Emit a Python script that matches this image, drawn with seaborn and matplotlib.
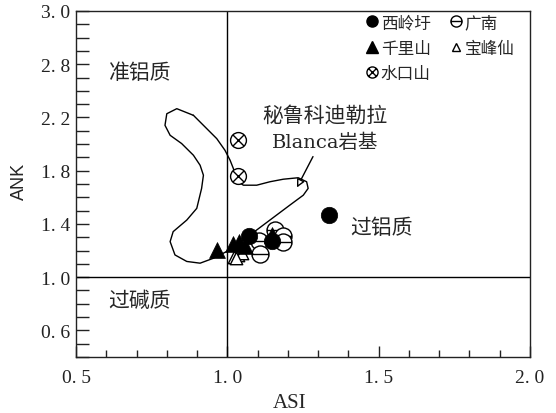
import matplotlib
matplotlib.use("Agg")
import matplotlib.pyplot as plt
from matplotlib.path import Path
from matplotlib.lines import Line2D
from matplotlib.ticker import MultipleLocator, FixedLocator, FixedFormatter
import numpy as np
import pandas as pd
import seaborn as sns

# ---- sample data: ASI vs ANK ----
xiling_asi = [1.073, 1.147, 1.337]
xiling_ank = [1.310, 1.275, 1.470]

qianli_asi = [0.965, 1.020, 1.040, 1.058, 1.146]
qianli_ank = [1.205, 1.250, 1.265, 1.235, 1.320]

shuikou_asi = [1.036, 1.036]
shuikou_ank = [2.030, 1.760]

guangnan_asi = [1.157, 1.183, 1.183, 1.105, 1.108]
guangnan_ank = [1.354, 1.312, 1.267, 1.270, 1.176]

baofeng_asi = [1.023, 1.036, 1.047, 1.030]
baofeng_ank = [1.155, 1.167, 1.180, 1.145]

# Cordillera Blanca batholith field outline (closed)
field_asi = [0.888, 0.833, 0.800, 0.794, 0.811, 0.849, 0.888, 0.910, 0.921,
             0.915, 0.899, 0.866, 0.821, 0.811, 0.827, 0.866, 0.910, 0.954,
             0.998, 1.031, 1.075, 1.119, 1.163, 1.207, 1.251, 1.267, 1.262,
             1.234, 1.185, 1.141, 1.097, 1.053, 1.036, 1.025, 1.020, 1.009,
             0.992, 0.965, 0.921]
field_ank = [2.216, 2.266, 2.228, 2.141, 2.066, 2.004, 1.916, 1.841, 1.766,
             1.667, 1.517, 1.429, 1.342, 1.267, 1.167, 1.118, 1.105, 1.142,
             1.193, 1.242, 1.317, 1.392, 1.467, 1.542, 1.616, 1.667, 1.717,
             1.747, 1.736, 1.717, 1.691, 1.691, 1.717, 1.766, 1.816, 1.879,
             1.954, 2.041, 2.141]

# ---- axis ticks ----
x_major = [0.5, 1.0, 1.5, 2.0]
x_labels = ["0. 5", "1. 0", "1. 5", "2. 0"]
y_major = [0.6, 1.0, 1.4, 1.8, 2.2, 2.6, 3.0]
y_labels = ["0. 6", "1. 0", "1. 4", "1. 8", "2. 2", "2. 8", "3. 0"]

group_names = ["西岭圩", "千里山", "水口山", "广南", "宝峰仙"]

sns.set_style("ticks")
plt.rcParams["font.family"] = ["Liberation Serif", "Noto Sans CJK SC", "DejaVu Sans"]
plt.rcParams["axes.linewidth"] = 1.0
plt.rcParams["axes.edgecolor"] = "#222222"

CJK = ["Noto Sans CJK SC", "DejaVu Sans"]

# custom markers: circle with a bar, circle with a cross
circ = Path.unit_circle()
theta_path = Path(
    np.concatenate([circ.vertices, [[-1, 0], [1, 0]]]),
    np.concatenate([circ.codes, [Path.MOVETO, Path.LINETO]]),
)
d = np.sqrt(0.5)
otimes_path = Path(
    np.concatenate([circ.vertices, [[-d, -d], [d, d], [-d, d], [d, -d]]]),
    np.concatenate([circ.codes, [Path.MOVETO, Path.LINETO, Path.MOVETO, Path.LINETO]]),
)

fig = plt.figure(figsize=(5.56, 4.14), dpi=100)
ax = fig.add_axes([76 / 556, 1 - 358 / 414, 454 / 556, 346 / 414])

# field outline
field = pd.DataFrame({"ASI": field_asi + field_asi[:1], "ANK": field_ank + field_ank[:1]})
sns.lineplot(data=field, x="ASI", y="ANK", sort=False, estimator=None,
             color="black", linewidth=1.0, ax=ax)

# A/CNK = 1 and A/NK = 1 dividers
ax.axvline(1.0, color="black", linewidth=1.0, zorder=1)
ax.axhline(1.0, color="black", linewidth=1.0, zorder=1)

# samples
sns.scatterplot(x=guangnan_asi, y=guangnan_ank, marker=theta_path, s=150,
                color="white", edgecolor="black", linewidth=1.0, ax=ax, zorder=3)
sns.scatterplot(x=baofeng_asi, y=baofeng_ank, marker="^", s=80,
                color="white", edgecolor="black", linewidth=1.0, ax=ax, zorder=3)
sns.scatterplot(x=qianli_asi, y=qianli_ank, marker="^", s=130,
                color="black", edgecolor="black", linewidth=0.5, ax=ax, zorder=4)
sns.scatterplot(x=xiling_asi, y=xiling_ank, marker="o", s=140,
                color="black", edgecolor="black", linewidth=0.5, ax=ax, zorder=4)
sns.scatterplot(x=shuikou_asi, y=shuikou_ank, marker=otimes_path, s=130,
                color="white", edgecolor="black", linewidth=1.0, ax=ax, zorder=3)

# field labels
ax.text(0.711, 2.543, "准铝质", fontsize=15, family=CJK, ha="center", va="center")
ax.text(0.711, 0.828, "过碱质", fontsize=15, family=CJK, ha="center", va="center")
ax.text(1.508, 1.375, "过铝质", fontsize=15, family=CJK, ha="center", va="center")
ax.text(1.323, 2.221, "秘鲁科迪勒拉", fontsize=15, family=CJK, ha="center", va="center")
ax.text(1.323, 2.019, "Blanca岩基", fontsize=14,
        family=["DejaVu Serif", "Noto Sans CJK SC"], ha="center", va="center")
ax.annotate("", xy=(1.230, 1.674), xytext=(1.283, 1.906),
            arrowprops=dict(arrowstyle="-|>", color="black", fc="white",
                            lw=1.0, mutation_scale=12, shrinkA=0, shrinkB=0))

# axes
ax.set_xlim(0.5, 2.0)
ax.set_ylim(0.4, 3.0)
ax.xaxis.set_major_locator(FixedLocator(x_major))
ax.xaxis.set_major_formatter(FixedFormatter(x_labels))
ax.xaxis.set_minor_locator(MultipleLocator(0.1))
ax.yaxis.set_major_locator(FixedLocator(y_major))
ax.yaxis.set_major_formatter(FixedFormatter(y_labels))
ax.yaxis.set_minor_locator(MultipleLocator(0.1))

ax.tick_params(axis="x", which="major", direction="in", length=8, width=1,
               labelsize=14, pad=9, colors="#222222")
ax.tick_params(axis="x", which="minor", direction="in", length=5, width=1, colors="#222222")
ax.tick_params(axis="y", which="both", direction="in", length=9, width=1,
               labelsize=14, pad=4, colors="#222222")
ax.tick_params(top=False, right=False, which="both")

ax.set_xlabel("ASI", fontsize=15, family="Liberation Serif")
ax.set_ylabel("ANK", fontsize=13, family="Liberation Sans")
ax.xaxis.set_label_coords((290 - 76) / 454, -(404 - 358) / 346)
ax.xaxis.label.set_verticalalignment("center")
ax.yaxis.set_label_coords((19 - 76) / 454, 1 - (181 - 12) / 346)
ax.yaxis.label.set_verticalalignment("center")

for sp in ax.spines.values():
    sp.set_visible(True)
    sp.set_linewidth(1.0)

# legend
handles = [
    Line2D([], [], ls="none", marker="o", ms=8, mfc="black", mec="black"),
    Line2D([], [], ls="none", marker="^", ms=8, mfc="black", mec="black"),
    Line2D([], [], ls="none", marker=otimes_path, ms=8, mfc="white", mec="black", mew=1),
    Line2D([], [], ls="none", marker=theta_path, ms=8, mfc="white", mec="black", mew=1),
    Line2D([], [], ls="none", marker="^", ms=6, mfc="white", mec="black", mew=1),
]
ax.legend(handles=handles, labels=group_names, ncol=2, loc="upper left",
          bbox_to_anchor=((357.5 - 76) / 454, 1 + 5 / 346),
          frameon=False, borderpad=0, handlelength=0.75, handletextpad=0.15,
          columnspacing=1.15, labelspacing=0.5,
          prop={"family": CJK, "size": 12})

fig.savefig("out.png", dpi=100)
